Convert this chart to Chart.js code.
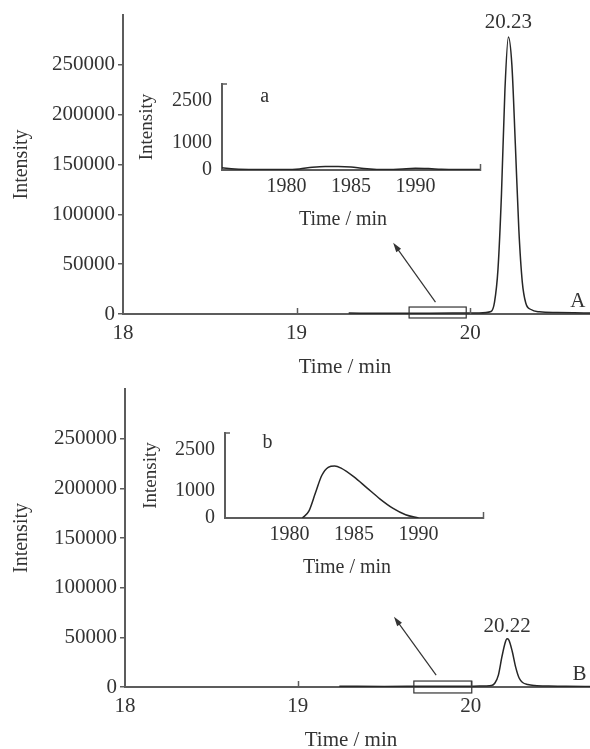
<!DOCTYPE html>
<html>
<head>
<meta charset="utf-8">
<script src="https://cdn.jsdelivr.net/npm/chart.js@4.4.1/dist/chart.umd.min.js"></script>
<style>
  html, body { margin: 0; padding: 0; background: #fff; width: 590px; height: 749px; overflow: hidden; position: relative; }
  canvas { position: absolute; }
</style>
</head>
<body>
<canvas id="mainA" width="590" height="380" style="left:0;top:0"></canvas>
<canvas id="insetA" width="370" height="160" style="left:120px;top:74px"></canvas>
<canvas id="mainB" width="590" height="380" style="left:0;top:372px"></canvas>
<canvas id="insetB" width="370" height="160" style="left:123px;top:423px"></canvas>
<script>
// chromatogram A (Time / min vs Intensity)
const timeA = [19.30, 19.50, 19.70, 19.90, 20.05, 20.12, 20.14, 20.16, 20.18, 20.20, 20.22, 20.24, 20.26, 20.28, 20.30, 20.32, 20.35, 20.40, 20.50, 20.60, 20.69];
const intensityA = [900, 700, 800, 900, 1000, 2500, 12000, 45000, 120000, 225000, 278000, 250000, 170000, 85000, 32000, 11000, 4500, 2200, 1500, 1200, 1000];

// chromatogram B
const timeB = [19.24, 19.50, 19.70, 19.90, 20.05, 20.12, 20.14, 20.16, 20.18, 20.20, 20.21, 20.22, 20.24, 20.26, 20.28, 20.30, 20.33, 20.37, 20.45, 20.55, 20.69];
const intensityB = [700, 600, 700, 800, 900, 1500, 4000, 12000, 30000, 45000, 48500, 47500, 36000, 20000, 9000, 4500, 2500, 1500, 900, 700, 600];

// zoomed insets a and b
const insetTimeA = [1975, 1976, 1978, 1980, 1981, 1982, 1983, 1984, 1985, 1986, 1987, 1988, 1989, 1990, 1991, 1992, 1993, 1994, 1995];
const insetIntensityA = [80, 40, 20, 15, 40, 100, 130, 130, 110, 50, 20, 15, 40, 60, 50, 30, 20, 20, 20];
const insetTimeB = [1981, 1981.5, 1982, 1982.5, 1983, 1983.5, 1984, 1985, 1986, 1987, 1988, 1989, 1990];
const insetIntensityB = [0, 250, 900, 1550, 1850, 1900, 1820, 1500, 1100, 700, 360, 120, 0];

// tick labels
const mainXTicks = [18, 19, 20];
const mainYTicks = [0, 50000, 100000, 150000, 200000, 250000];
const insetXTicks = [1980, 1985, 1990];
const insetYTicks = [0, 1000, 2500];

const FONT = "'Liberation Serif', 'Times New Roman', serif";
const TXT = '#333';
const AX = '#5c5c5c';
const LINE = '#262626';

const toPoints = (xs, ys) => xs.map((t, i) => ({ x: t, y: ys[i] }));
const noPad = s => { s.paddingTop = 0; s.paddingBottom = 0; s.paddingLeft = 0; s.paddingRight = 0; };

// extra marks: inward ticks, zoom box, arrow, labels
const marks = {
  id: 'marks',
  afterDraw(chart, args, o) {
    const { ctx, chartArea: ca } = chart;
    const x = chart.scales.x, y = chart.scales.y;
    ctx.save();
    ctx.strokeStyle = AX;
    ctx.lineWidth = 1.5;
    (o.upTicks || []).forEach(v => {
      const px = Math.round(x.getPixelForValue(v)) + 0.5;
      ctx.beginPath(); ctx.moveTo(px, ca.bottom + 1); ctx.lineTo(px, ca.bottom - 6); ctx.stroke();
    });
    if (o.cornerTick) {
      ctx.beginPath(); ctx.moveTo(ca.left, ca.top); ctx.lineTo(ca.left + 5, ca.top); ctx.stroke();
    }
    if (o.box) {
      const [x1, x2, y1, y2] = o.box;
      const a = x.getPixelForValue(x1), b = x.getPixelForValue(x2);
      const c = y.getPixelForValue(y1), d = y.getPixelForValue(y2);
      ctx.strokeStyle = '#333';
      ctx.lineWidth = 1.2;
      ctx.strokeRect(a, c, b - a, d - c);
    }
    if (o.arrow) {
      const [x1, y1, x2, y2] = o.arrow;
      const ax = x.getPixelForValue(x1), ay = y.getPixelForValue(y1);
      const bx = x.getPixelForValue(x2), by = y.getPixelForValue(y2);
      const ang = Math.atan2(by - ay, bx - ax);
      ctx.strokeStyle = '#333';
      ctx.fillStyle = '#333';
      ctx.lineWidth = 1.2;
      ctx.beginPath(); ctx.moveTo(ax, ay); ctx.lineTo(bx - 6 * Math.cos(ang), by - 6 * Math.sin(ang)); ctx.stroke();
      ctx.beginPath();
      ctx.moveTo(bx, by);
      ctx.lineTo(bx - 10 * Math.cos(ang - 0.3), by - 10 * Math.sin(ang - 0.3));
      ctx.lineTo(bx - 10 * Math.cos(ang + 0.3), by - 10 * Math.sin(ang + 0.3));
      ctx.closePath(); ctx.fill();
    }
    ctx.fillStyle = TXT;
    ctx.textAlign = 'center';
    ctx.textBaseline = 'middle';
    ctx.font = (o.fontSize || 21) + 'px ' + FONT;
    (o.texts || []).forEach(t => {
      ctx.fillText(t.text, x.getPixelForValue(t.x), y.getPixelForValue(t.y) + (t.dy || 0));
    });
    if (o.xTitle) ctx.fillText(o.xTitle.text, o.xTitle.px, o.xTitle.py);
    ctx.restore();
  }
};

function mainChart(id, times, values, cfg) {
  const pts = toPoints(times, values);
  const peak = pts.reduce((m, p) => (p.y > m.y ? p : m), pts[0]);
  return new Chart(document.getElementById(id), {
    type: 'line',
    data: { datasets: [{ data: pts, borderColor: LINE, borderWidth: 1.5, pointRadius: 0, cubicInterpolationMode: 'monotone', fill: false }] },
    plugins: [marks],
    options: {
      responsive: false, animation: false, devicePixelRatio: 1,
      layout: { padding: { top: cfg.top, right: 0, bottom: 0, left: 0 } },
      plugins: {
        legend: { display: false }, tooltip: { enabled: false },
        marks: {
          upTicks: [19, 20],
          box: cfg.box, arrow: cfg.arrow,
          texts: [
            { text: cfg.peakText, x: peak.x, y: peak.y, dy: cfg.peakDy },
            { text: cfg.letter, x: cfg.letterAt[0], y: cfg.letterAt[1] }
          ],
          xTitle: { text: 'Time / min', px: cfg.titleAt[0], py: cfg.titleAt[1] }
        }
      },
      scales: {
        x: {
          type: 'linear', min: 18, max: 20.69,
          afterBuildTicks: s => { s.ticks = mainXTicks.map(v => ({ value: v })); },
          afterFit: s => { s.height = cfg.xHeight; noPad(s); },
          grid: { display: false, drawTicks: false },
          border: { display: true, color: AX, width: 2 },
          ticks: { color: TXT, font: { family: FONT, size: 21 }, padding: 7, maxRotation: 0, callback: v => String(v) }
        },
        y: {
          min: 0, max: 300000,
          afterBuildTicks: s => { s.ticks = mainYTicks.map(v => ({ value: v })); },
          afterFit: s => { s.width = cfg.left; noPad(s); },
          grid: { display: true, drawOnChartArea: false, drawTicks: true, tickLength: 5, color: AX, lineWidth: 1.5 },
          border: { display: true, color: AX, width: 2 },
          ticks: { color: TXT, font: { family: FONT, size: 21 }, padding: 3, callback: v => String(v) },
          title: { display: true, text: 'Intensity', color: TXT, font: { family: FONT, size: 20 }, padding: { top: cfg.yTitlePad, bottom: 0 } }
        }
      }
    }
  });
}

function insetChart(id, times, values, cfg) {
  return new Chart(document.getElementById(id), {
    type: 'line',
    data: { datasets: [{ data: toPoints(times, values), borderColor: LINE, borderWidth: 1.5, pointRadius: 0, cubicInterpolationMode: 'monotone', fill: false }] },
    plugins: [marks],
    options: {
      responsive: false, animation: false, devicePixelRatio: 1,
      layout: { padding: { top: 10, right: 10, bottom: 0, left: 0 } },
      plugins: {
        legend: { display: false }, tooltip: { enabled: false },
        marks: {
          upTicks: [1995], cornerTick: true, fontSize: 20,
          texts: [{ text: cfg.letter, x: 1978.3, y: cfg.letterY }],
          xTitle: { text: 'Time / min', px: cfg.titleAt[0], py: cfg.titleAt[1] }
        }
      },
      scales: {
        x: {
          type: 'linear', min: 1975, max: 1995,
          afterBuildTicks: s => { s.ticks = insetXTicks.map(v => ({ value: v })); },
          afterFit: s => { s.height = cfg.xHeight; noPad(s); },
          grid: { display: false, drawTicks: false },
          border: { display: true, color: AX, width: 2 },
          ticks: { color: TXT, font: { family: FONT, size: 20 }, padding: 5, maxRotation: 0, callback: v => String(v) }
        },
        y: {
          min: 0, max: 3100,
          afterBuildTicks: s => { s.ticks = insetYTicks.map(v => ({ value: v })); },
          afterFit: s => { s.width = 102; noPad(s); },
          grid: { display: false, drawTicks: false },
          border: { display: true, color: AX, width: 2 },
          ticks: { color: TXT, font: { family: FONT, size: 20 }, padding: 10, callback: v => String(v) },
          title: { display: true, text: 'Intensity', color: TXT, font: { family: FONT, size: 19 }, padding: { top: cfg.yTitlePad, bottom: 0 } }
        }
      }
    }
  });
}

mainChart('mainA', timeA, intensityA, {
  top: 15, left: 123, xHeight: 66, yTitlePad: 10,
  box: [19.648, 19.977, 7000, -4000], arrow: [19.80, 12000, 19.556, 71500],
  peakText: '20.23', peakDy: -14, letter: 'A', letterAt: [20.62, 13000], titleAt: [345, 367]
});
mainChart('mainB', timeB, intensityB, {
  top: 17, left: 125, xHeight: 65, yTitlePad: 10,
  box: [19.671, 20.006, 6000, -6000], arrow: [19.80, 12000, 19.556, 70800],
  peakText: '20.22', peakDy: -12, letter: 'B', letterAt: [20.63, 13000], titleAt: [351, 368]
});
insetChart('insetA', insetTimeA, insetIntensityA, { letter: 'a', letterY: 2630, xHeight: 64, yTitlePad: 16, titleAt: [223, 146] });
insetChart('insetB', insetTimeB, insetIntensityB, { letter: 'b', letterY: 2735, xHeight: 65, yTitlePad: 17, titleAt: [224, 145] });
</script>
</body>
</html>
